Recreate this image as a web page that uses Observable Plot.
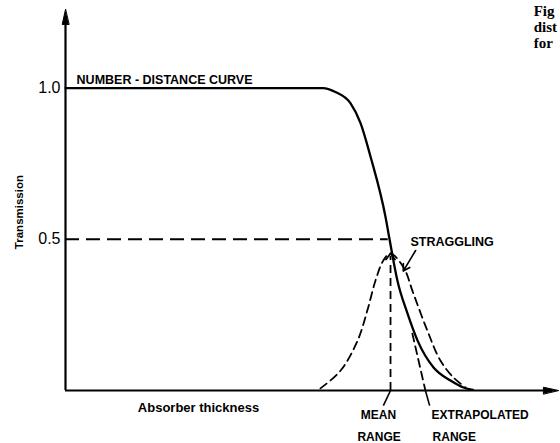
<!DOCTYPE html>
<html>
<head>
<meta charset="utf-8">
<script src="https://cdn.jsdelivr.net/npm/d3@7"></script>
<script src="https://cdn.jsdelivr.net/npm/@observablehq/plot@0.6"></script>
<style>
  html, body { margin: 0; padding: 0; background: #fff; }
  #chart { width: 560px; height: 443px; overflow: hidden; }
</style>
</head>
<body>
<div id="chart"></div>
<script>
// Number-distance (transmission) curve
const ndX = [0, 7.9, 8.28, 8.74, 9.05, 9.36, 9.82, 9.94, 10.18, 10.49, 10.8, 11.29, 11.81, 12.21, 12.5];
const ndY = [1, 1, 0.987, 0.95, 0.884, 0.772, 0.572, 0.5, 0.364, 0.255, 0.165, 0.076, 0.033, 0.01, 0.002];
// Straggling (range distribution) curve
const gX = [7.82, 8.44, 8.96, 9.26, 9.51, 9.75, 9.97, 10.37, 10.67, 11.1, 11.5, 11.9, 12.27];
const gY = [0.007, 0.066, 0.165, 0.265, 0.364, 0.43, 0.453, 0.407, 0.321, 0.198, 0.099, 0.043, 0.01];
// Key values
const halfLevel = 0.5;
const meanRange = 9.97;
const peakValue = 0.453;
const tangentX = [10.64, 11.04];
const tangentY = [0.188, 0];
const yTicks = [0.5, 1.0];
// Labels
const yLabel = "Transmission";
const xLabel = "Absorber thickness";
const curveLabel = "NUMBER - DISTANCE CURVE";
const stragglingLabel = "STRAGGLING";
const meanLabel = ["MEAN", "RANGE"];
const extrapLabel = ["EXTRAPOLATED", "RANGE"];
const captionLines = ["Fig", "dist", "for"];

const nd = ndX.map((x, i) => ({x, y: ndY[i]}));
const g = gX.map((x, i) => ({x, y: gY[i]}));
const tangent = tangentX.map((x, i) => ({x, y: tangentY[i]}));

const FONT = "Liberation Sans, Arial, sans-serif";
const head = {draw(ctx, l) { ctx.moveTo(0, 0); ctx.lineTo(-3.3, l); ctx.lineTo(3.3, l); ctx.closePath(); }};
const caret = {draw(ctx) { ctx.moveTo(-4.5, 6); ctx.lineTo(0, 0); ctx.lineTo(4.5, 6); }};
const lbl = {fontSize: 12, fontWeight: "bold", letterSpacing: 0.8};

const chart = Plot.plot({
  width: 560,
  height: 443,
  marginLeft: 65,
  marginRight: 6,
  marginTop: 12,
  marginBottom: 53,
  x: {domain: [0, 15], axis: null},
  y: {domain: [0, 1.25], axis: null},
  style: {fontFamily: FONT, background: "white", color: "black", overflow: "visible"},
  marks: [
    // y tick labels
    Plot.axisY({ticks: yTicks, tickSize: 0, tickPadding: 5, tickFormat: d => d.toFixed(1), fontSize: 16, label: null}),
    // axes
    Plot.ruleX([0], {y1: 0, y2: 1.22, stroke: "black", strokeWidth: 2.2}),
    Plot.ruleY([0], {x1: 0, x2: 14.9, stroke: "black", strokeWidth: 2.2}),
    Plot.vector([{x: 0, y: 1.26}], {x: "x", y: "y", length: 15, rotate: 0, anchor: "start", shape: head, fill: "black", stroke: "black", strokeWidth: 1}),
    Plot.vector([{x: 15.12, y: 0}], {x: "x", y: "y", length: 15, rotate: 90, anchor: "start", shape: head, fill: "black", stroke: "black", strokeWidth: 1}),
    // 0.5 level dashed line
    Plot.ruleY([halfLevel], {x1: 0, x2: 9.9, stroke: "black", strokeWidth: 2, strokeDasharray: "14,7"}),
    // straggling distribution
    Plot.line(g, {x: "x", y: "y", curve: "catmull-rom", stroke: "black", strokeWidth: 1.8, strokeDasharray: "8,5"}),
    // mean range vertical dashed
    Plot.ruleX([meanRange], {y1: 0, y2: peakValue - 0.01, stroke: "black", strokeWidth: 1.8, strokeDasharray: "8,5"}),
    Plot.vector([{x: meanRange, y: peakValue}], {x: "x", y: "y", length: 6, anchor: "start", shape: caret, stroke: "black", strokeWidth: 1.8}),
    // tangent (extrapolated range)
    Plot.line(tangent, {x: "x", y: "y", stroke: "black", strokeWidth: 1.8, strokeDasharray: "8,5"}),
    // number-distance curve
    Plot.line(nd, {x: "x", y: "y", curve: "monotone-x", stroke: "black", strokeWidth: 2.3}),
    // leaders
    Plot.link([{x1: meanRange, y1: 0, x2: 9.75, y2: -0.05}], {x1: "x1", y1: "y1", x2: "x2", y2: "y2", stroke: "black", strokeWidth: 1.6}),
    Plot.link([{x1: 11.04, y1: 0, x2: 11.17, y2: -0.05}], {x1: "x1", y1: "y1", x2: "x2", y2: "y2", stroke: "black", strokeWidth: 1.6}),
    Plot.arrow([{x1: 10.74, y1: 0.463, x2: 10.36, y2: 0.395}], {x1: "x1", y1: "y1", x2: "x2", y2: "y2", stroke: "black", strokeWidth: 1.6, headLength: 7}),
    // labels
    Plot.text([curveLabel], {x: 0.34, y: 1.028, text: d => d, textAnchor: "start", ...lbl, fontSize: 12.5}),
    Plot.text([stragglingLabel], {x: 10.58, y: 0.49, text: d => d, textAnchor: "start", ...lbl, fontSize: 12.5}),
    Plot.text([meanLabel[0]], {x: 9.6, y: -0.083, text: d => d, textAnchor: "middle", ...lbl}),
    Plot.text([meanLabel[1]], {x: 9.62, y: -0.155, text: d => d, textAnchor: "middle", ...lbl}),
    Plot.text([extrapLabel[0]], {x: 11.23, y: -0.083, text: d => d, textAnchor: "start", ...lbl}),
    Plot.text([extrapLabel[1]], {x: 11.26, y: -0.155, text: d => d, textAnchor: "start", ...lbl}),
    Plot.text([xLabel], {x: 4.08, y: -0.056, text: d => d, fontSize: 13, fontWeight: "bold", letterSpacing: 0.9}),
    Plot.text([yLabel], {x: -1.41, y: 0.59, text: d => d, rotate: -90, fontSize: 11.5, fontWeight: "bold", letterSpacing: 1}),
    Plot.text([captionLines.join("\n")], {x: 14.36, y: 1.275, text: d => d, lineAnchor: "top", textAnchor: "start", fontSize: 15, fontWeight: "bold", fontFamily: "Liberation Serif, serif", lineHeight: 1.05})
  ]
});
document.getElementById("chart").appendChild(chart);
</script>
</body>
</html>
